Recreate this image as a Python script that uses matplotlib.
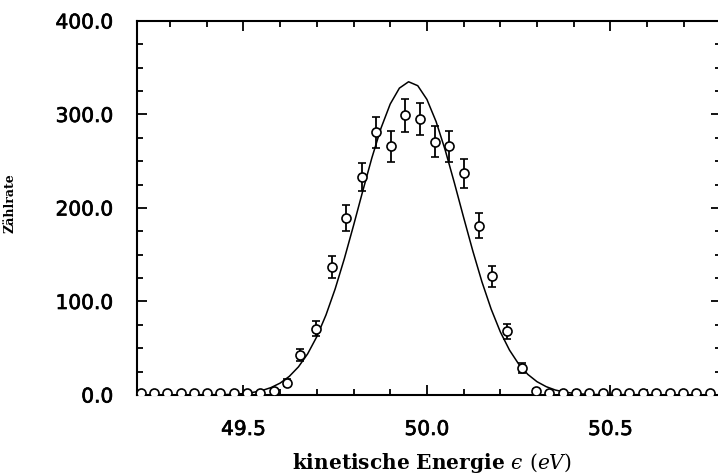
import numpy as np
import matplotlib
matplotlib.use("Agg")
import matplotlib.pyplot as plt
from matplotlib.ticker import MultipleLocator, FormatStrFormatter
import matplotlib.patheffects as pe

# measured counts (energy in eV, counts, poisson error)
energy = [49.220, 49.257, 49.293, 49.329, 49.366, 49.402, 49.437, 49.473,
          49.509, 49.545, 49.582, 49.620, 49.655, 49.699, 49.740, 49.780,
          49.822, 49.862, 49.902, 49.941, 49.981, 50.022, 50.061, 50.102,
          50.143, 50.178, 50.217, 50.258, 50.298, 50.334, 50.372, 50.407,
          50.443, 50.481, 50.516, 50.552, 50.590, 50.625, 50.661, 50.699,
          50.734, 50.770]
counts = [2, 2, 2, 2, 2, 2, 2, 2,
          2, 2, 4, 13, 43, 71, 137, 189,
          233, 281, 266, 299, 295, 271, 266, 237,
          181, 127, 68, 29, 4, 2, 2, 2,
          2, 2, 2, 2, 2, 2, 2, 2,
          2, 2]
errors = [1, 1, 1, 1, 1, 1, 1, 1,
          1, 1, 2, 3.6, 6.6, 8.4, 11.7, 13.7,
          15.3, 16.8, 16.3, 17.3, 17.2, 16.5, 16.3, 15.4,
          13.5, 11.3, 8.2, 5.4, 2, 1, 1, 1,
          1, 1, 1, 1, 1, 1, 1, 1,
          1, 1]

# fitted line profile
fit_energy = [49.20, 49.45, 49.475, 49.50, 49.525, 49.55, 49.575, 49.60,
              49.625, 49.65, 49.675, 49.70, 49.725, 49.75, 49.775, 49.80,
              49.825, 49.85, 49.875, 49.90, 49.925, 49.95, 49.975, 50.00,
              50.025, 50.05, 50.075, 50.10, 50.125, 50.15, 50.175, 50.20,
              50.225, 50.25, 50.275, 50.30, 50.325, 50.35, 50.375, 50.40,
              50.425, 50.45, 50.80]
fit_counts = [0, 0.4, 0.8, 1.5, 2.7, 4.7, 7.9, 12.7,
              19.9, 30.1, 44.0, 62.4, 85.6, 113.5, 145.8, 181.2,
              217.9, 253.6, 285.5, 311.2, 328.2, 335.0, 330.8, 316.1,
              292.4, 261.7, 226.6, 189.9, 154.1, 120.9, 91.9, 67.5,
              48.0, 33.1, 22.0, 14.2, 8.9, 5.3, 3.1, 1.8,
              1.0, 0.5, 0]

plt.rcParams['mathtext.fontset'] = 'dejavuserif'

fig = plt.figure(figsize=(7.18, 4.76), dpi=100)
ax = fig.add_axes([0.1908, 0.1702, 0.8127, 0.7857])

ax.plot(fit_energy, fit_counts, color='black', lw=1.1, zorder=2)
ax.errorbar(energy, counts, yerr=errors, fmt='o', ms=6.5, mfc='white',
            mec='black', mew=1.2, ecolor='black', elinewidth=1.3,
            capsize=3, capthick=1.3, zorder=3)

ax.set_xlim(49.21, 50.8)
ax.set_ylim(0, 400)

ax.xaxis.set_major_locator(MultipleLocator(0.5))
ax.xaxis.set_minor_locator(MultipleLocator(0.1))
ax.yaxis.set_major_locator(MultipleLocator(100))
ax.yaxis.set_minor_locator(MultipleLocator(25))
ax.xaxis.set_major_formatter(FormatStrFormatter('%.1f'))
ax.yaxis.set_major_formatter(FormatStrFormatter('%.1f'))

ax.tick_params(which='both', direction='in', top=True, right=True, width=1.3)
ax.tick_params(which='major', length=7)
ax.tick_params(which='minor', length=4)
ax.tick_params(axis='y', which='major', pad=17, labelsize=14.5)
ax.tick_params(axis='x', which='major', pad=18, labelsize=14.5)
for lab in ax.get_xticklabels() + ax.get_yticklabels():
    lab.set_path_effects([pe.withStroke(linewidth=0.5, foreground='black')])

for sp in ax.spines.values():
    sp.set_linewidth(1.5)

ax.set_xlabel('kinetische Energie $\u03f5$ $(eV)$', family='DejaVu Serif',
              fontweight='bold', fontsize=14.5)
ax.xaxis.set_label_coords(0.505, -0.15)
ax.set_ylabel('Zählrate', family='DejaVu Serif', fontweight='bold', fontsize=9)
ax.yaxis.set_label_coords(-0.206, 0.513)

fig.savefig('out.png', dpi=100)
